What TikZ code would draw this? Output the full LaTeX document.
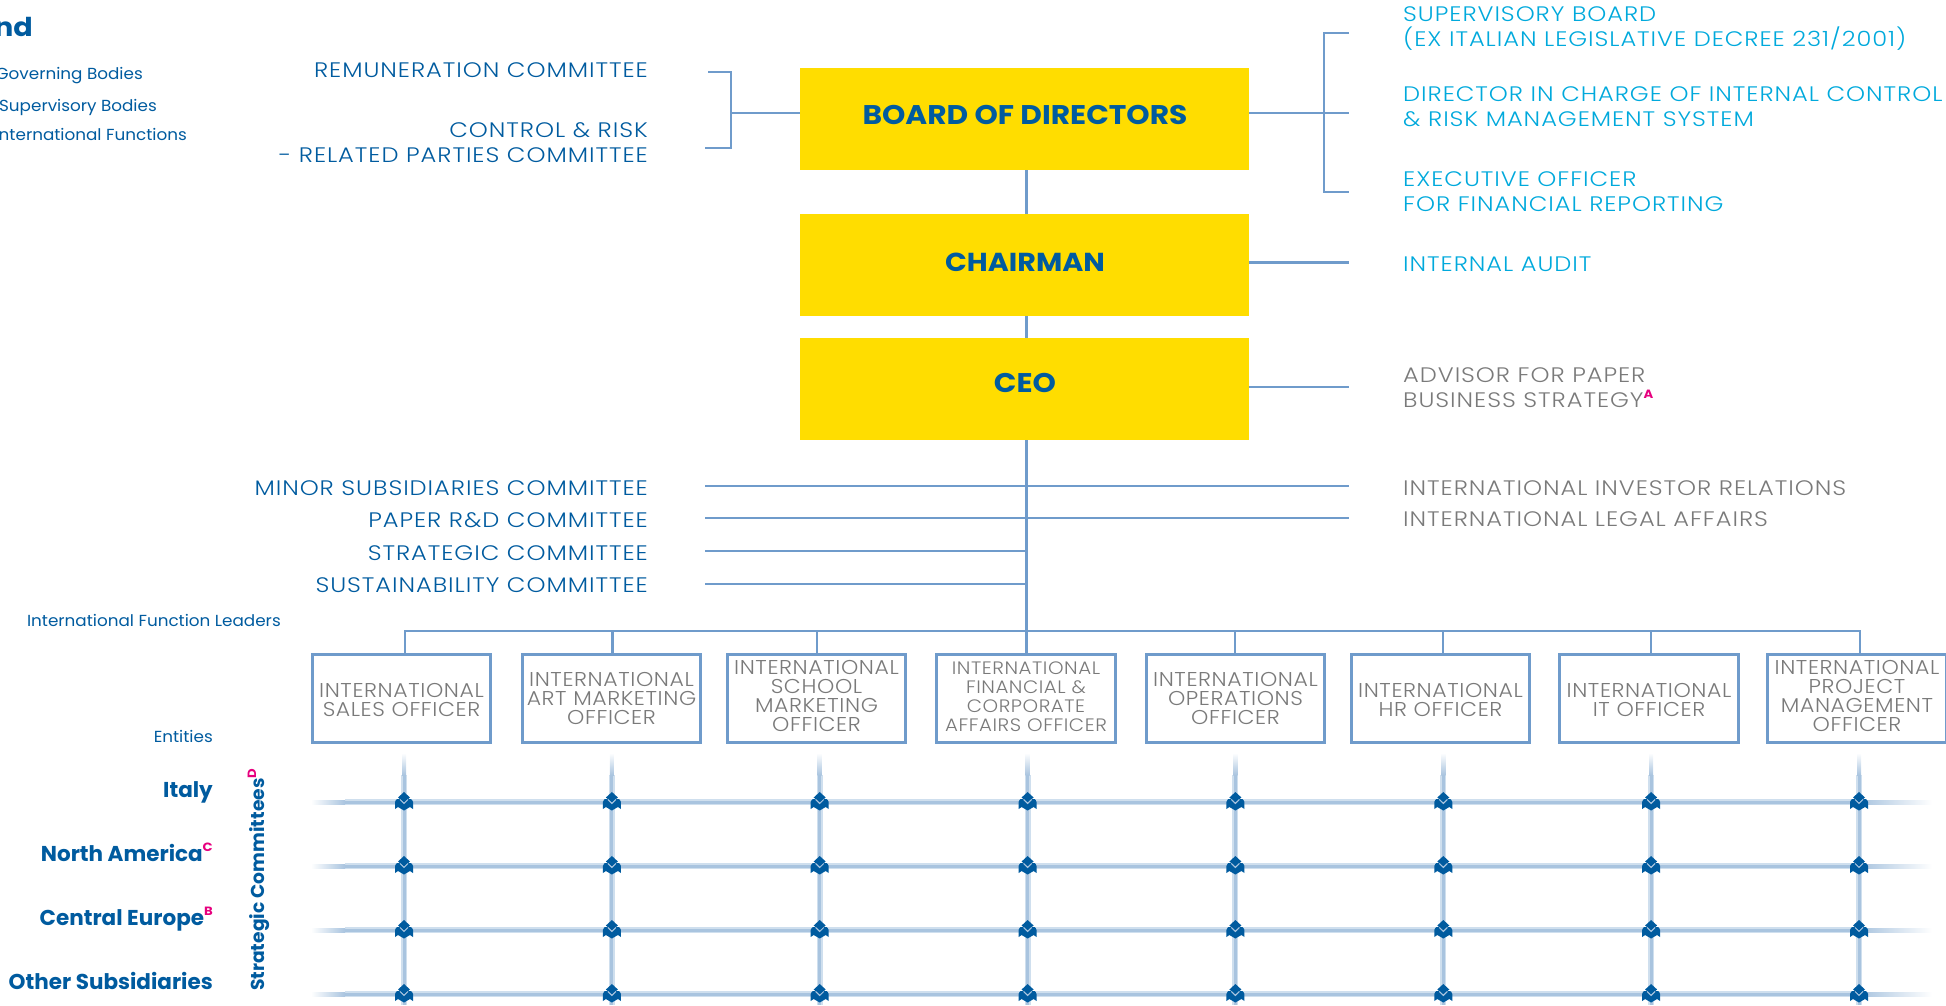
\documentclass[tikz,border=0pt]{standalone}
\usepackage{fontspec}
\setmainfont{Poppins}
\newfontfamily\lblf[FakeStretch=1.15,LetterSpace=4.5]{Poppins Light}
\newfontfamily\offf[FakeStretch=1.1,LetterSpace=3]{Poppins Light}
\newfontfamily\leadf[FakeStretch=1.05]{Poppins}
\newfontfamily\titlef[FakeStretch=1.1]{Poppins}
\definecolor{navy}{HTML}{005B9F}
\definecolor{cyanT}{HTML}{00A9DC}
\definecolor{greyT}{HTML}{7A7A7A}
\definecolor{yell}{HTML}{FFDD00}
\definecolor{lineB}{HTML}{6F9BCB}
\definecolor{gridB}{HTML}{A9C4DF}
\definecolor{gridL}{HTML}{CFDFEE}
\definecolor{mag}{HTML}{E6007E}
\newcommand{\fs}[2]{\fontsize{#1}{#2}\selectfont}
\newcommand{\supm}[1]{\textcolor{mag}{\raisebox{0.42em}{\titlef\fs{12}{12}\bfseries #1}}}
\tikzset{
 lbl/.style={inner sep=0,font=\lblf\fs{21}{25},align=left,anchor=base west},
 lblr/.style={inner sep=0,font=\lblf\fs{21}{25},align=right,anchor=base east,text=navy},
 cy/.style={lbl,text=cyanT},
 gr/.style={lbl,text=greyT},
 lead/.style={inner sep=0,font=\leadf\fs{16}{16},text=navy,anchor=base east},
 ent/.style={inner sep=0,font=\fs{21.5}{22}\bfseries,text=navy,anchor=base east},
 ybox/.style={fill=yell,inner sep=0,minimum width=449pt,minimum height=102pt},
 ytext/.style={inner sep=0,font=\titlef\fs{27}{27}\bfseries,text=navy,anchor=base},
 obox/.style={draw=lineB,line width=2.8pt,fill=white,inner sep=0,minimum width=178.5pt,minimum height=88pt},
 otext/.style={inner sep=0,text=greyT,align=center,anchor=base},
 conn/.style={draw=lineB,line width=2.8pt},
 emblem/.pic={
  \fill[navy] (0,-10) -- (6,-4.5) -- (0,0.5) -- (-6,-4.5) -- cycle;
  \fill[navy] (-9,7) -- (-9,0) .. controls (-8,-3) and (-6,-4) .. (-4.5,-3) -- (0,1.5) -- (4.5,-3) .. controls (6,-4) and (8,-3) .. (9,0) -- (9,7) -- (6,5) -- (0,8.5) -- (-6,5) -- cycle;
  \draw[gridB,line width=1pt] (-4,-2.5) -- (0,1.5) -- (4,-2.5);
 }
}
\begin{document}
\begin{tikzpicture}[x=1pt,y=-1pt]
\useasboundingbox (0,0) rectangle (1946,1005);
\clip (0,0) rectangle (1946,1005);
% legend
\node[inner sep=0,font=\titlef\fs{26}{26}\bfseries,text=navy,anchor=base east] (lg) at (33,36) {nd};
\node[lead] (lg1) at (143,79) {Governing Bodies};
\node[lead] (lg2) at (157,111) {Supervisory Bodies};
\node[lead] (lg3) at (187,140) {International Functions};
% yellow boxes
\node[ybox] (bod) at (1024.5,119) {};
\node[ybox] (chair) at (1024.5,265) {};
\node[ybox] (ceo) at (1024.5,389) {};
\node[ytext] (bodt) at (1025,124) {BOARD OF DIRECTORS};
\node[ytext,font=\titlef\fs{26}{26}\bfseries] (chairt) at (1025,271) {CHAIRMAN};
\node[ytext] (ceot) at (1025,392) {CEO};
% spine coordinates
\coordinate (bus) at (1026.5,631);
\coordinate (busL) at (405,631);
\coordinate (busR) at (1860,631);
\coordinate (s1) at (1026.5,170);\coordinate (s2) at (1026.5,214);
\coordinate (s3) at (1026.5,316);\coordinate (s4) at (1026.5,338);\coordinate (s5) at (1026.5,440);
\draw[conn] (s1) -- (s2);
\draw[conn] (s3) -- (s4);
\draw[conn] (s5) -- (bus);
\draw[conn,line cap=rect] (busL) -- (busR);
% left bracket
\coordinate (a1) at (708,72);\coordinate (a2) at (731,72);\coordinate (a3) at (731,148);\coordinate (a4) at (705,148);\coordinate (a5) at (731,113);
\draw[conn,line join=miter] (a1) -- (a2) -- (a3) -- (a4);
\draw[conn] (a5) -- (bod.west |- a5);
% right bracket
\coordinate (b1) at (1349,33);\coordinate (b2) at (1324,33);\coordinate (b3) at (1324,192);\coordinate (b4) at (1349,192);\coordinate (b5) at (1349,113);
\draw[conn,line join=miter] (b1) -- (b2) -- (b3) -- (b4);
\draw[conn] (bod.east |- b5) -- (b5);
\coordinate (c1) at (1349,262.5);\draw[conn] (chair.east |- c1) -- (c1);
\coordinate (c2) at (1349,387);\draw[conn] (ceo.east |- c2) -- (c2);
% committee lines
\coordinate (d1) at (705,486);\coordinate (d2) at (1349,486);\draw[conn] (d1) -- (d2);
\coordinate (e1) at (705,518);\coordinate (e2) at (1349,518);\draw[conn] (e1) -- (e2);
\coordinate (f1) at (705,551);\coordinate (f2) at (1026.5,551);\draw[conn] (f1) -- (f2);
\coordinate (g1) at (705,584);\coordinate (g2) at (1026.5,584);\draw[conn] (g1) -- (g2);
% left labels
\node[lblr] (l1) at (648,77) {REMUNERATION COMMITTEE};
\node[lblr] (l2) at (648,162) {CONTROL \& RISK\\- RELATED PARTIES COMMITTEE};
\node[lblr] (l3) at (648,495) {MINOR SUBSIDIARIES COMMITTEE};
\node[lblr] (l4) at (648,527) {PAPER R\&D COMMITTEE};
\node[lblr] (l5) at (648,560) {STRATEGIC COMMITTEE};
\node[lblr] (l6) at (648,592) {SUSTAINABILITY COMMITTEE};
% right labels
\node[cy] (r1) at (1403,46) {SUPERVISORY BOARD\\(EX ITALIAN LEGISLATIVE DECREE 231/2001)};
\node[cy] (r2) at (1403,126) {DIRECTOR IN CHARGE OF INTERNAL CONTROL\\\& RISK MANAGEMENT SYSTEM};
\node[cy] (r3) at (1403,211) {EXECUTIVE OFFICER\\FOR FINANCIAL REPORTING};
\node[cy] (r4) at (1403,271) {INTERNAL AUDIT};
\node[gr] (r5) at (1403,407) {ADVISOR FOR PAPER\\BUSINESS STRATEGY\supm{A}};
\node[gr] (r6) at (1403,495) {INTERNATIONAL INVESTOR RELATIONS};
\node[gr] (r7) at (1403,526) {INTERNATIONAL LEGAL AFFAIRS};
\node[lead] (il) at (281,626) {International Function Leaders};
\node[lead] (en) at (213,742) {Entities};
% grid
\foreach \i/\yy in {1/802,2/866,3/930,4/994}{
 \fill[gridL] (345,\yy-3) rectangle (1860,\yy+3);
 \fill[gridB] (345,\yy-1.5) rectangle (1860,\yy+1.5);
 \shade[left color=gridB,right color=white] (1860,\yy-2) rectangle (1932,\yy+2);
 \shade[left color=white,right color=gridB] (311,\yy-2) rectangle (345,\yy+2);
}
\foreach \xx in {404,611.9,819.7,1027.6,1235.4,1443.3,1651.1,1859}{
 \fill[gridL] (\xx-3,775) rectangle (\xx+3,1005);
 \fill[gridB] (\xx-1.5,775) rectangle (\xx+1.5,1005);
 \shade[top color=white,bottom color=gridB] (\xx-2,753) rectangle (\xx+2,775);
 \foreach \yy in {802,866,930,994}{\pic at (\xx,\yy) {emblem};}
}
% officers
\foreach \n/\cx/\dx/\by/\sz/\txt in {
 o1/401.5/405/716.5/20/{INTERNATIONAL\\SALES OFFICER},
 o2/611.5/612.7/724.5/20/{INTERNATIONAL\\ART MARKETING\\OFFICER},
 o3/816.5/817/731/20/{INTERNATIONAL\\SCHOOL\\MARKETING\\OFFICER},
 o4/1026/1026.5/731/18/{INTERNATIONAL\\FINANCIAL \&\\CORPORATE\\AFFAIRS OFFICER},
 o5/1235.5/1235/724.5/20/{INTERNATIONAL\\OPERATIONS\\OFFICER},
 o6/1440.5/1443/716.5/20/{INTERNATIONAL\\HR OFFICER},
 o7/1649/1651/716.5/20/{INTERNATIONAL\\IT OFFICER},
 o8/1857/1860/731/20/{INTERNATIONAL\\PROJECT\\MANAGEMENT\\OFFICER}}{
 \coordinate (t\n) at (\dx,631);
 \node[obox] (\n) at (\cx,698.5) {};
 \draw[conn] (t\n) -- (\n.north -| t\n);
 \node[otext,font=\offf\fs{\sz}{18.8}] (\n t) at (\cx,\by) {\txt};
}
% entities
\node[ent] (i1) at (213,797) {Italy};
\node[ent] (i2) at (213,861) {North America\supm{C}};
\node[ent] (i3) at (213,925) {Central Europe\supm{B}};
\node[ent] (i4) at (213,989) {Other Subsidiaries};
\node[inner sep=0,font=\fs{18.7}{19}\bfseries,text=navy,rotate=90,anchor=base west] (sc) at (264,991) {Strategic Committees\supm{D}};
\end{tikzpicture}
\end{document}
